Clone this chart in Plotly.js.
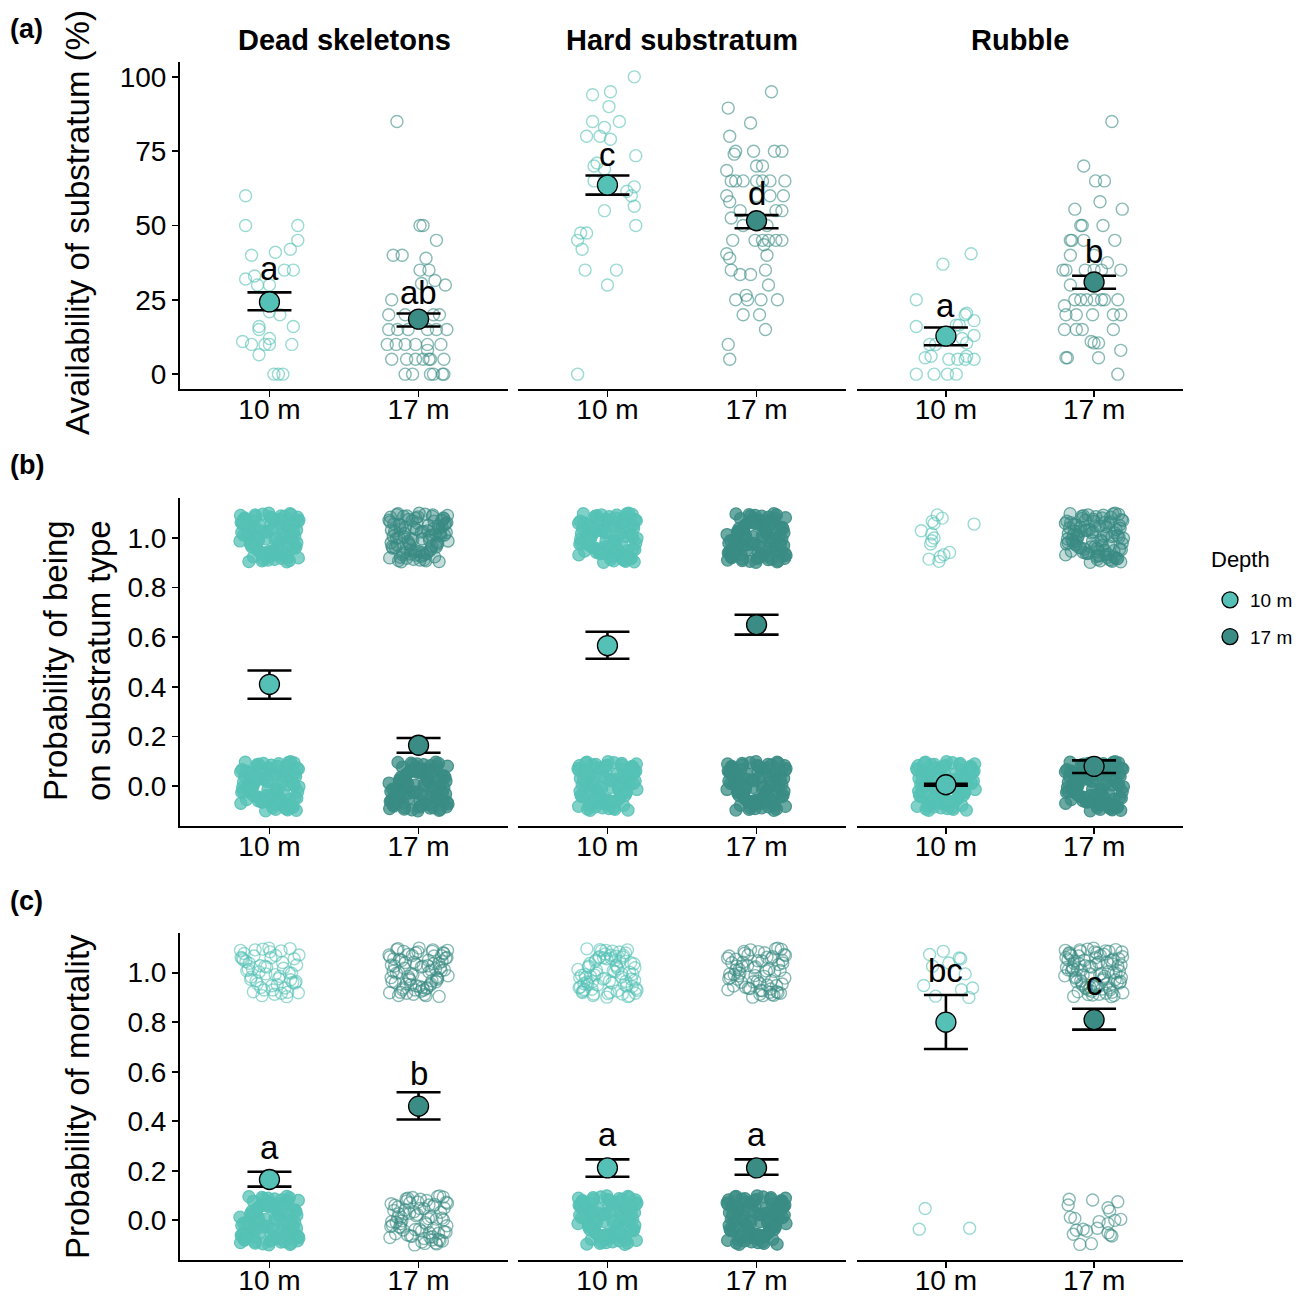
<!DOCTYPE html>
<html><head><meta charset="utf-8">
<script src="https://cdn.plot.ly/plotly-3.0.1.min.js"></script>
<style>html,body{margin:0;padding:0;background:#fff}#chart{width:1311px;height:1297px}</style>
</head><body><div id="chart"></div>
<script>
// ---------------- DATA ----------------
const FACETS = ['Dead skeletons', 'Hard substratum', 'Rubble'];
const DEPTHS = ['10 m', '17 m'];
const ROW_LABELS = ['(a)', '(b)', '(c)'];
const ROW_TITLES = ['Availability of substratum (%)', 'Probability of being<br>on substratum type', 'Probability of mortality'];
const LEGEND_TITLE = 'Depth';
const A_TICKS = [0, 25, 50, 75, 100];
const P_TICKS = [0, 0.2, 0.4, 0.6, 0.8, 1.0];

// row (a): raw observations, jitter offset (category units) and value (%)
const A_DS10_DX = [-0.16,-0.16,0.19,0.19,0.14,0.04,-0.12,0.10,0.16,-0.10,-0.16,-0.08,0.00,0.00,0.07,-0.07,-0.07,0.16,0.00,-0.18,-0.12,-0.03,0.00,0.15,-0.07,0.03,0.06,0.09];
const A_DS10_Y  = [60,50,50,45,42,41,40,35,35,33,32,30,30,21,20,16,15,16,12,11,10,10,10,10,6.5,0,0,0];
const A_DS17_DX = [-0.145,0.01,0.03,0.12,-0.17,-0.11,0.05,0.01,0.07,0.11,0.18,0.02,-0.18,-0.20,-0.09,0.10,0.14,-0.20,-0.14,-0.07,0.06,0.12,0.19,-0.21,-0.15,-0.09,-0.02,0.06,0.15,0.06,-0.18,-0.08,-0.02,0.03,0.07,0.08,0.17,-0.09,-0.04,0.08,0.10,0.16,0.17];
const A_DS17_Y  = [85,50,50,45,40,40,39,35,35,31.5,30,30.5,25,20,20,20,20,15,15,15,15,15,15,10,10,10,10,10,10,8,5,5,5,5,5,5,5,0,0,0,0,0,0];
const A_HS10_DX = [0.18,-0.10,0.02,0.01,-0.10,0.08,-0.02,-0.14,-0.05,0.02,0.19,-0.09,-0.07,-0.02,-0.09,0.18,0.13,0.16,0.18,0.19,-0.02,-0.18,-0.14,-0.20,-0.17,-0.15,0.06,0.00,-0.20];
const A_HS10_Y  = [100,94,95,90,85,85,83,80,80,79,73.5,70,71,69,65,63,61.5,60,56.5,50,55,47.5,47.5,45,42,35,35,30,0];
const A_HS17_DX = [0.10,-0.19,-0.04,-0.18,-0.14,-0.15,-0.02,0.12,0.17,0.00,0.04,-0.20,-0.17,-0.14,-0.09,0.00,0.04,0.09,0.19,-0.20,0.00,0.09,0.18,-0.18,-0.11,0.13,0.17,-0.17,-0.09,0.07,-0.16,-0.01,0.04,0.08,0.13,0.17,0.05,-0.20,-0.18,0.07,-0.17,0.06,-0.11,-0.04,0.08,-0.14,-0.07,-0.06,0.03,0.14,-0.09,0.02,0.06,-0.19,-0.18];
const A_HS17_Y  = [95,89.5,84.5,80,75,74,75,75,75,70,70,68.5,65,65,65,65,65,65,65,60,60,60,60,58,55,55,55,52.5,50,50,45,45,45,45,45,45,43.5,40.5,39,40,35,35,33.5,33.5,30,25,26.5,25,25,25,20,20,15,10,5];
const A_RU10_DX = [-0.02,0.17,-0.20,-0.20,0.14,0.13,0.19,0.07,0.09,0.19,0.11,0.14,-0.07,-0.11,-0.14,-0.10,0.02,0.08,0.13,0.14,0.19,-0.20,-0.08,0.01,0.07];
const A_RU10_Y  = [37,40.5,25,16,20.5,20,18,16.5,16.5,13,12,10.5,10,10,5.5,6,5,5,5,6,5,0,0,0,0];
const A_RU17_DX = [0.12,-0.07,0.01,0.07,0.04,-0.13,0.19,-0.09,-0.08,0.06,-0.16,-0.15,-0.07,0.14,-0.16,0.00,0.09,-0.21,-0.19,-0.06,0.00,0.18,0.05,-0.16,-0.13,-0.09,-0.05,0.00,0.05,0.07,0.16,-0.20,-0.19,-0.12,-0.01,0.13,0.18,-0.20,-0.12,-0.08,0.13,-0.02,0.00,0.03,-0.19,-0.18,0.03,0.18,0.16];
const A_RU17_Y  = [85,70,65,65,58,55.5,55.5,50,50,50,45,45,45,45,40,40,37.5,35,35,35,35,35,35,30,25,25,25,25,25,25,25,23,20,20,20,20,20,15,15,15,15,11,10.5,10.5,5.5,5.5,5.5,8,0];

// model estimates: [facet][depth]
const A_MEAN = [[24.3,18.5],[63.6,51.6],[12.8,31.0]];
const A_HI   = [[27.5,20.4],[66.8,53.5],[15.7,33.1]];
const A_LO   = [[21.5,16.0],[60.4,49.1],[9.7,28.7]];
const B_MEAN = [[0.41,0.165],[0.566,0.65],[0.006,0.08]];
const B_HI   = [[0.466,0.194],[0.622,0.69],[0.010,0.104]];
const B_LO   = [[0.352,0.135],[0.513,0.61],[0.002,0.053]];
const C_MEAN = [[0.165,0.461],[0.212,0.212],[0.80,0.81]];
const C_HI   = [[0.196,0.517],[0.246,0.246],[0.91,0.854]];
const C_LO   = [[0.136,0.407],[0.176,0.184],[0.692,0.77]];

// significance letters and their heights
const A_LET   = [['a','ab'],['c','d'],['a','b']];
const A_LET_Y = [[35.5,27.3],[74,60.8],[23.2,41.2]];
const C_LET   = [['a','b'],['a','a'],['bc','c']];
const C_LET_Y = [[0.294,0.593],[0.346,0.346],[1.01,0.957]];

// binary observations (0/1), estimated jitter offsets (normalised -1..1)
const JX = [0.62,-0.81,0.13,-0.37,0.94,-0.05,0.48,-0.66,0.27,-0.93,0.71,-0.22,0.05,-0.54,0.86,-0.71,0.39,-0.12,0.58,-0.88,0.21,-0.45,0.97,-0.31,0.66,-0.97,0.08,-0.61,0.44,-0.18,0.83,-0.76,0.31,-0.02,0.52,-0.41,0.91,-0.85,0.17,-0.57,0.74,-0.29,0.02,-0.68,0.35,-0.95,0.61,-0.09,0.89,-0.48,0.26,-0.79,0.47,-0.25,0.99,-0.63,0.11,-0.35,0.69,-0.91,0.4,-0.15,0.78,-0.52,0.19,-0.83,0.57,-0.02,0.92,-0.43,0.33,-0.69,0.07,-0.27,0.64,-0.99,0.5,-0.59,0.85,-0.08,0.15,-0.39,0.73,-0.73,0.29,-0.2,0.96,-0.5,0.54,-0.87,0.09,-0.64,0.42,-0.33,0.8,-0.13,0.24,-0.77,0.67,-0.46];
const JY = [0.35,0.72,-0.58,-0.11,0.83,-0.9,0.04,0.47,-0.66,0.21,-0.29,0.95,0.6,-0.77,-0.42,0.13,0.88,-0.05,-0.97,0.52,0.69,-0.33,-0.81,0.28,0.0,0.9,-0.53,-0.18,0.41,-0.7,0.56,0.08,-0.24,0.99,-0.62,-0.45,0.31,0.77,-0.87,0.15,-0.02,-0.6,0.84,0.38,-0.15,0.61,-0.79,0.23,-0.36,0.92,-0.49,0.45,0.18,-0.93,0.71,-0.27,-0.7,0.03,0.97,0.58,-0.83,0.26,-0.4,0.67,-0.08,0.8,0.49,-0.56,-0.2,0.1,0.74,-0.96,0.33,-0.64,0.54,-0.13,0.86,-0.37,0.06,-0.75,0.42,-0.51,0.93,0.19,-0.3,-0.88,0.64,0.36,-0.69,0.11,0.79,-0.22,-0.46,0.5,0.27,-0.6,-0.04,0.68,-0.92,0.86];
// number of observations drawn per cloud [facet][depth]
const B_N_TOP = [[100,100],[100,100],[0,100]];
const B_N_BOT = [[100,100],[100,100],[100,100]];
const C_N_TOP = [[55,80],[80,70],[0,90]];
const C_N_BOT = [[100,75],[100,100],[0,0]];
// sparse rubble clouds read individually (offset, jittered value)
const B_RU10_TOP_DX = [-0.058,-0.025,-0.092,-0.08,0.19,-0.166,-0.096,-0.08,-0.096,-0.103,0.025,-0.013,-0.038,-0.114,-0.047];
const B_RU10_TOP_Y  = [1.092,1.079,1.066,1.057,1.055,1.028,1.015,0.999,0.988,0.975,0.941,0.932,0.924,0.914,0.905];
const C_RU10_TOP_DX = [-0.11,-0.018,0.02,0.09,0.10,-0.09,0.13,-0.15,0.18,0.105,-0.07,0.155];
const C_RU10_TOP_Y  = [1.073,1.086,1.039,1.059,1.056,1.026,0.995,0.948,0.938,0.931,0.905,0.90];
const C_RU10_BOT_DX = [-0.14,-0.18,0.16];
const C_RU10_BOT_Y  = [0.048,-0.036,-0.032];
const C_RU17_BOT_DX = [-0.168,-0.175,-0.01,0.16,0.094,0.105,-0.16,-0.13,0.18,0.14,0.034,0.094,0.022,-0.12,-0.074,-0.05,0.094,0.12,0.11,-0.096,-0.018,-0.14];
const C_RU17_BOT_Y  = [0.085,0.062,0.082,0.075,0.051,0.038,0.013,0.008,0.004,0.0,-0.005,-0.013,-0.032,-0.04,-0.036,-0.043,-0.05,-0.063,-0.059,-0.097,-0.094,-0.056];

// ---------------- STYLE / LAYOUT ----------------
const W = 1311, H = 1297;
const FONT = 'Liberation Sans, Arial, Helvetica, sans-serif';
const RGB = [[85,193,182],[58,140,132]];
const rgba = (d, a) => `rgba(${RGB[d][0]},${RGB[d][1]},${RGB[d][2]},${a})`;
const colPx = [[180,508],[518,846],[857,1183]];
const rowPx = [[62,389],[498,826],[933,1260]];
const yRanges = [[-5,105],[-0.16,1.16],[-0.16,1.16]];
const JW = 0.2, JH = 0.1;
const TICK_FONT = 28;

const traces = [];
const layout = {
  width: W, height: H, margin: {l:0, r:0, t:0, b:0},
  paper_bgcolor: 'white', plot_bgcolor: 'rgba(0,0,0,0)',
  font: {family: FONT, color: 'black'},
  showlegend: true,
  legend: {x: 1210/W, xanchor: 'left', y: 1 - 581/H, yanchor: 'top',
           font: {size: 19}, bgcolor: 'rgba(0,0,0,0)', traceorder: 'grouped', tracegroupgap: 9},
  annotations: [{xref: 'paper', yref: 'paper', x: 1209/W, y: 1 - 560/H, text: LEGEND_TITLE,
                 showarrow: false, xanchor: 'left', yanchor: 'middle', font: {size: 22}}]
};
const ax = (k) => k === 1 ? '' : String(k);

for (let r = 0; r < 3; r++) {
  for (let c = 0; c < 3; c++) {
    const k = r*3 + c + 1;
    layout['xaxis' + ax(k)] = {
      domain: [colPx[c][0]/W, colPx[c][1]/W], anchor: 'y' + ax(k),
      range: [0.4, 2.6], tickvals: [1, 2], ticktext: DEPTHS,
      showline: true, linecolor: 'black', linewidth: 2,
      ticks: 'outside', ticklen: 6, tickwidth: 1.8, tickcolor: 'black',
      ticklabelstandoff: -12,
      tickfont: {size: TICK_FONT}, showgrid: false, zeroline: false, fixedrange: true
    };
    layout['yaxis' + ax(k)] = {
      domain: [1 - rowPx[r][1]/H, 1 - rowPx[r][0]/H], anchor: 'x' + ax(k),
      range: yRanges[r], showgrid: false, zeroline: false,
      showline: c === 0, linecolor: 'black', linewidth: 2,
      ticks: c === 0 ? 'outside' : '', ticklen: 6, tickwidth: 1.8, tickcolor: 'black',
      showticklabels: c === 0, tickvals: r === 0 ? A_TICKS : P_TICKS,
      tickformat: r === 0 ? '' : '.1f', tickfont: {size: TICK_FONT}, fixedrange: true
    };
  }
}

function styleMarker(style, d) {
  if (style === 'solid') return {symbol: 'circle', size: 12, color: rgba(d, 0.75), line: {color: rgba(d, 0.9), width: 1.2}};
  if (style === 'dense') return {symbol: 'circle', size: 12, color: rgba(d, 0.3), line: {color: rgba(d, 0.75), width: 1.3}};
  return {symbol: 'circle-open', size: 12, color: rgba(d, 0.6), line: {width: 1.4}};
}
function addPoints(k, d, xs, ys, style) {
  traces.push({type: 'scatter', mode: 'markers', x: xs, y: ys,
    xaxis: 'x' + ax(k), yaxis: 'y' + ax(k), showlegend: false, hoverinfo: 'skip',
    marker: styleMarker(style, d)});
}

// row (a) raw points
const A_RAW = [[[A_DS10_DX, A_DS10_Y], [A_DS17_DX, A_DS17_Y]],
               [[A_HS10_DX, A_HS10_Y], [A_HS17_DX, A_HS17_Y]],
               [[A_RU10_DX, A_RU10_Y], [A_RU17_DX, A_RU17_Y]]];
for (let c = 0; c < 3; c++) for (let d = 0; d < 2; d++) {
  const [dx, y] = A_RAW[c][d];
  addPoints(c + 1, d, dx.map(v => d + 1 + v), y, 'ring');
}

// rows (b),(c): jittered 0/1 clouds
function cloud(k, d, level, n, style, start, mode) {
  const xs = [], ys = [];
  for (let i = 0; i < n; i++) {
    const j = (start + i) % JX.length;
    let a = JX[j], b = JY[j];
    if (mode === 1) { a = JY[j]; b = JX[j]; }
    if (mode === 2) { a = -JX[j]; }
    if (mode === 3) { b = -JY[j]; }
    xs.push(d + 1 + a*JW); ys.push(level + b*JH);
  }
  addPoints(k, d, xs, ys, style);
}
const st = (n) => n >= 100 ? 'solid' : 'ring';
// row b
cloud(4, 0, 1, B_N_TOP[0][0], 'solid', 0, 0);
cloud(4, 0, 0, B_N_BOT[0][0], 'solid', 0, 1);
cloud(4, 1, 1, B_N_TOP[0][1], 'dense', 0, 2);
cloud(4, 1, 0, B_N_BOT[0][1], 'solid', 0, 3);
cloud(5, 0, 1, B_N_TOP[1][0], 'solid', 0, 1);
cloud(5, 0, 0, B_N_BOT[1][0], 'solid', 0, 2);
cloud(5, 1, 1, B_N_TOP[1][1], 'solid', 0, 3);
cloud(5, 1, 0, B_N_BOT[1][1], 'solid', 0, 0);
addPoints(6, 0, B_RU10_TOP_DX.map(v => 1 + v), B_RU10_TOP_Y, 'ring');
cloud(6, 0, 0, B_N_BOT[2][0], 'solid', 0, 2);
cloud(6, 1, 1, B_N_TOP[2][1], 'dense', 5, 1);
cloud(6, 1, 0, B_N_BOT[2][1], 'solid', 0, 1);
// row c
cloud(7, 0, 1, C_N_TOP[0][0], st(C_N_TOP[0][0]), 10, 0);
cloud(7, 0, 0, C_N_BOT[0][0], st(C_N_BOT[0][0]), 0, 3);
cloud(7, 1, 1, C_N_TOP[0][1], st(C_N_TOP[0][1]), 20, 2);
cloud(7, 1, 0, C_N_BOT[0][1], st(C_N_BOT[0][1]), 40, 1);
cloud(8, 0, 1, C_N_TOP[1][0], st(C_N_TOP[1][0]), 30, 3);
cloud(8, 0, 0, C_N_BOT[1][0], st(C_N_BOT[1][0]), 0, 0);
cloud(8, 1, 1, C_N_TOP[1][1], st(C_N_TOP[1][1]), 50, 1);
cloud(8, 1, 0, C_N_BOT[1][1], st(C_N_BOT[1][1]), 0, 2);
addPoints(9, 0, C_RU10_TOP_DX.map(v => 1 + v), C_RU10_TOP_Y, 'ring');
addPoints(9, 0, C_RU10_BOT_DX.map(v => 1 + v), C_RU10_BOT_Y, 'ring');
cloud(9, 1, 1, C_N_TOP[2][1], 'ring', 60, 0);
addPoints(9, 1, C_RU17_BOT_DX.map(v => 2 + v), C_RU17_BOT_Y, 'ring');

// means with CIs
const EST = [[A_MEAN, A_HI, A_LO], [B_MEAN, B_HI, B_LO], [C_MEAN, C_HI, C_LO]];
for (let r = 0; r < 3; r++) for (let c = 0; c < 3; c++) for (let d = 0; d < 2; d++) {
  const k = r*3 + c + 1;
  const [M, HI, LO] = EST[r];
  traces.push({type: 'scatter', mode: 'markers', x: [d + 1], y: [M[c][d]],
    xaxis: 'x' + ax(k), yaxis: 'y' + ax(k), name: DEPTHS[d], legendgroup: DEPTHS[d],
    showlegend: k === 1, hoverinfo: 'skip',
    error_y: {type: 'data', symmetric: false, array: [HI[c][d] - M[c][d]], arrayminus: [M[c][d] - LO[c][d]],
              color: 'black', thickness: 2.6, width: 22},
    marker: {symbol: 'circle', size: 20, color: rgba(d, 1), line: {color: 'black', width: 1.3}}});
}

// letters
const LETS = [[A_LET, A_LET_Y, 0], [C_LET, C_LET_Y, 2]];
for (const [L, LY, r] of LETS) for (let c = 0; c < 3; c++) for (let d = 0; d < 2; d++) {
  const k = r*3 + c + 1;
  layout.annotations.push({xref: 'x' + ax(k), yref: 'y' + ax(k), x: d + 1, y: LY[c][d],
    text: L[c][d], showarrow: false, font: {size: 33}, xanchor: 'center', yanchor: 'middle'});
}
// strip titles
for (let c = 0; c < 3; c++) {
  layout.annotations.push({xref: 'paper', yref: 'paper', x: (colPx[c][0] + colPx[c][1]) / 2 / W, y: 1 - 40/H,
    text: '<b>' + FACETS[c] + '</b>', showarrow: false, font: {size: 29}, xanchor: 'center', yanchor: 'middle'});
}
// row labels and y titles
const labY = [29, 465, 901], titY = [223, 661, 1097];
for (let r = 0; r < 3; r++) {
  layout.annotations.push({xref: 'paper', yref: 'paper', x: 8/W, y: 1 - labY[r]/H,
    text: '<b>' + ROW_LABELS[r] + '</b>', showarrow: false, font: {size: 27}, xanchor: 'left', yanchor: 'middle'});
  layout.annotations.push({xref: 'paper', yref: 'paper', x: 77/W, y: 1 - titY[r]/H,
    text: ROW_TITLES[r], showarrow: false, textangle: -90, font: {size: 33}, xanchor: 'center', yanchor: 'middle'});
}

Plotly.newPlot('chart', traces, layout, {staticPlot: true, displayModeBar: false});
</script>
</body></html>
